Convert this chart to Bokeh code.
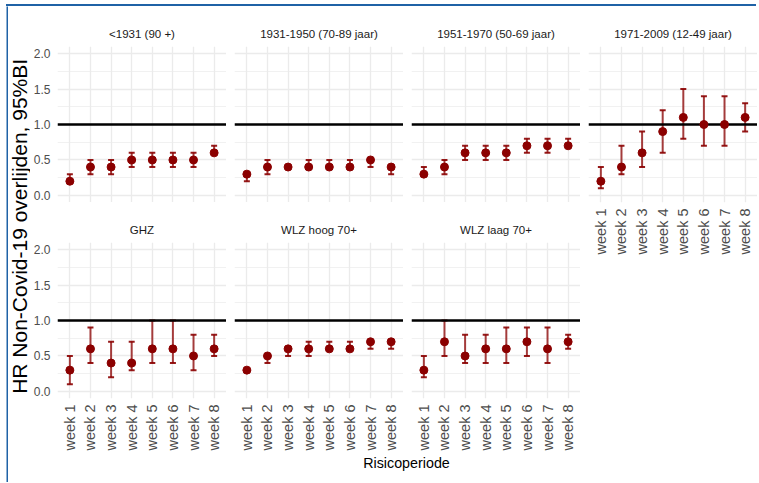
import math
from bokeh.plotting import figure
from bokeh.models import (ColumnDataSource, FactorRange, Range1d, FixedTicker,
                          Whisker, TeeHead, Span, Label, Div)
from bokeh.layouts import row, column
from bokeh.embed import file_html
from bokeh.resources import INLINE

# ---------------- data ----------------
weeks = ["week 1", "week 2", "week 3", "week 4", "week 5", "week 6", "week 7", "week 8"]

panel_titles = ["<1931 (90 +)", "1931-1950 (70-89 jaar)", "1951-1970 (50-69 jaar)",
                "1971-2009 (12-49 jaar)", "GHZ", "WLZ hoog 70+", "WLZ laag 70+"]

hr_1931 = [0.2, 0.4, 0.4, 0.5, 0.5, 0.5, 0.5, 0.6]
lo_1931 = [0.2, 0.3, 0.3, 0.4, 0.4, 0.4, 0.4, 0.6]
hi_1931 = [0.3, 0.5, 0.5, 0.6, 0.6, 0.6, 0.6, 0.7]

hr_1950 = [0.3, 0.4, 0.4, 0.4, 0.4, 0.4, 0.5, 0.4]
lo_1950 = [0.2, 0.3, 0.4, 0.4, 0.4, 0.4, 0.4, 0.3]
hi_1950 = [0.3, 0.5, 0.4, 0.5, 0.5, 0.5, 0.5, 0.4]

hr_1970 = [0.3, 0.4, 0.6, 0.6, 0.6, 0.7, 0.7, 0.7]
lo_1970 = [0.3, 0.3, 0.5, 0.5, 0.5, 0.6, 0.6, 0.7]
hi_1970 = [0.4, 0.5, 0.7, 0.7, 0.7, 0.8, 0.8, 0.8]

hr_2009 = [0.2, 0.4, 0.6, 0.9, 1.1, 1.0, 1.0, 1.1]
lo_2009 = [0.1, 0.3, 0.4, 0.6, 0.8, 0.7, 0.7, 0.9]
hi_2009 = [0.4, 0.7, 0.9, 1.2, 1.5, 1.4, 1.4, 1.3]

hr_ghz = [0.3, 0.6, 0.4, 0.4, 0.6, 0.6, 0.5, 0.6]
lo_ghz = [0.1, 0.4, 0.2, 0.3, 0.4, 0.4, 0.3, 0.5]
hi_ghz = [0.5, 0.9, 0.7, 0.7, 1.0, 1.0, 0.8, 0.8]

hr_hoog = [0.3, 0.5, 0.6, 0.6, 0.6, 0.6, 0.7, 0.7]
lo_hoog = [0.3, 0.4, 0.5, 0.5, 0.6, 0.6, 0.6, 0.6]
hi_hoog = [0.3, 0.5, 0.6, 0.7, 0.7, 0.7, 0.7, 0.7]

hr_laag = [0.3, 0.7, 0.5, 0.6, 0.6, 0.7, 0.6, 0.7]
lo_laag = [0.2, 0.5, 0.4, 0.4, 0.4, 0.5, 0.4, 0.6]
hi_laag = [0.5, 1.0, 0.8, 0.8, 0.9, 0.9, 0.9, 0.8]

y_ticks = [0.0, 0.5, 1.0, 1.5, 2.0]
y_tick_labels = ["0.0", "0.5", "1.0", "1.5", "2.0"]
y_minor_ticks = [0.25, 0.75, 1.25, 1.75]
reference_hr = 1.0

y_title = "HR Non-Covid-19 overlijden, 95%BI"
x_title = "Risicoperiode"

# ---------------- style ----------------
FW, FH = 169, 156
GAP = 8
TOP = 40
XAX_H = 54
YLAB_W = 22
YAX_W = 26
EDGE = 6
RED = "#8B0000"
GRID = "#ebebeb"
TICK_COL = "#4d4d4d"
BLUE = "#1f62a6"
FONT = "Liberation Sans"


def make_panel(title, hr, lo, hi, left, bottom, show_y, show_x):
    src = ColumnDataSource(dict(x=weeks, hr=hr, lo=lo, hi=hi))
    p = figure(x_range=FactorRange(factors=weeks, range_padding=0.1,
                                   range_padding_units="absolute"),
               y_range=Range1d(-0.1, 2.1),
               frame_width=FW, frame_height=FH,
               min_border_left=left, min_border_right=0,
               min_border_top=TOP, min_border_bottom=bottom,
               output_backend="svg", toolbar_location=None)
    p.outline_line_color = None
    p.background_fill_color = "white"
    p.border_fill_color = "white"

    p.title.text = title
    p.title.align = "center"
    p.title.text_font = FONT
    p.title.text_font_size = "11.5px"
    p.title.text_font_style = "normal"
    p.title.text_color = "#1a1a1a"
    p.title.standoff = 14

    yt = FixedTicker(ticks=y_ticks, minor_ticks=y_minor_ticks)
    p.yaxis.ticker = yt
    p.ygrid.ticker = yt
    p.yaxis.major_label_overrides = {t: l for t, l in zip(y_ticks, y_tick_labels)}
    p.ygrid.grid_line_color = GRID
    p.ygrid.grid_line_width = 1.3
    p.ygrid.minor_grid_line_color = GRID
    p.ygrid.minor_grid_line_width = 0.7
    p.xgrid.grid_line_color = GRID
    p.xgrid.grid_line_width = 1.3

    for ax in (p.xaxis[0], p.yaxis[0]):
        ax.axis_line_color = None
        ax.major_tick_line_color = None
        ax.minor_tick_line_color = None
        ax.major_tick_out = 0
        ax.major_tick_in = 0
        ax.minor_tick_out = 0
        ax.minor_tick_in = 0
        ax.major_label_text_color = TICK_COL
        ax.major_label_text_font = FONT
    p.yaxis.major_label_text_font_size = "12px"
    p.yaxis.major_label_standoff = 7
    p.xaxis.major_label_text_font_size = "14.5px"
    p.xaxis.major_label_orientation = math.pi / 2
    p.xaxis.major_label_standoff = 6
    p.yaxis.visible = show_y
    p.xaxis.visible = show_x

    whisk = Whisker(base="x", lower="lo", upper="hi", source=src,
                    line_color=RED, line_alpha=0.75, line_width=2, level="underlay",
                    upper_head=TeeHead(size=6, line_color=RED, line_alpha=0.9, line_width=2),
                    lower_head=TeeHead(size=6, line_color=RED, line_alpha=0.9, line_width=2))
    p.add_layout(whisk)
    p.add_layout(Span(location=reference_hr, dimension="width", line_color="black",
                      line_width=2.5, level="underlay"))
    p.scatter(x="x", y="hr", source=src, size=8, color=RED)
    return p


p1 = make_panel(panel_titles[0], hr_1931, lo_1931, hi_1931, YAX_W, 0, True, False)
p2 = make_panel(panel_titles[1], hr_1950, lo_1950, hi_1950, GAP, 0, False, False)
p3 = make_panel(panel_titles[2], hr_1970, lo_1970, hi_1970, GAP, 0, False, False)
p4 = make_panel(panel_titles[3], hr_2009, lo_2009, hi_2009, GAP, 58, False, True)
p5 = make_panel(panel_titles[4], hr_ghz, lo_ghz, hi_ghz, YAX_W, XAX_H, True, True)
p6 = make_panel(panel_titles[5], hr_hoog, lo_hoog, hi_hoog, GAP, XAX_H, False, True)
p7 = make_panel(panel_titles[6], hr_laag, lo_laag, hi_laag, GAP, XAX_H, False, True)


def blank(fw, fh, left=0, top=0, bottom=0, fill="white", border="white"):
    b = figure(x_range=Range1d(0, 1), y_range=Range1d(0, 1),
               frame_width=fw, frame_height=fh,
               min_border_left=left, min_border_right=0,
               min_border_top=top, min_border_bottom=bottom,
               output_backend="svg", toolbar_location=None)
    b.axis.visible = False
    b.grid.visible = False
    b.outline_line_color = None
    b.background_fill_color = fill
    b.border_fill_color = border
    return b


ROWS_H = 2 * (TOP + FH) + XAX_H
ylab = blank(YLAB_W, 2 * FH + TOP, top=TOP, bottom=XAX_H)
ylab.add_layout(Label(x=0.5, y=0.489, text=y_title, angle=math.pi / 2,
                      text_align="center", text_baseline="middle",
                      text_font=FONT, text_font_size="21px", text_color="black"))

XLAB_H = 22
xlab = blank(3 * (FW + GAP) + FW, XLAB_H, left=YLAB_W + YAX_W)
xlab.add_layout(Label(x=0.5, y=0.55, text=x_title,
                      text_align="center", text_baseline="middle",
                      text_font=FONT, text_font_size="14.3px", text_color="black"))

CONTENT_W = YLAB_W + YAX_W + 4 * FW + 3 * GAP
top_border = Div(text="", width=CONTENT_W + 2, height=6, margin=(0, 0, 0, EDGE),
                 styles={"border-bottom": "2px solid " + BLUE,
                         "box-sizing": "border-box"})
left_strip = blank(2, ROWS_H + XLAB_H + 8, left=EDGE, fill=BLUE, border="white")

left_block = column(row(p1, p2, p3), row(p5, p6, p7))
content = column(row(ylab, left_block, p4), xlab)
layout = column(top_border, row(left_strip, content))

open("out.html", "w").write(file_html(layout, INLINE))
